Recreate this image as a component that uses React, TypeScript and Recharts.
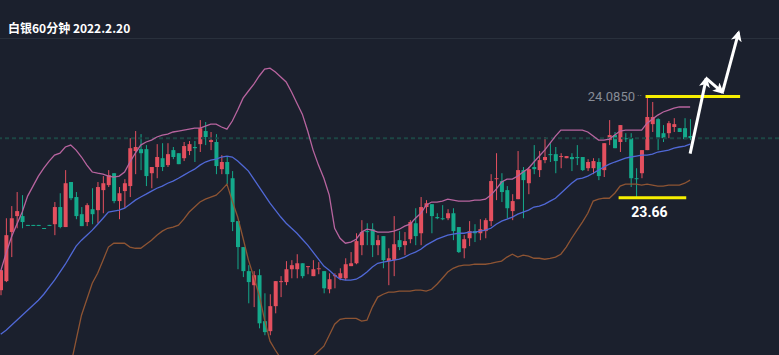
import { ComposedChart, Bar, Line, XAxis, YAxis, ReferenceLine } from "recharts";

// 60-minute silver candles (open / high / low / close)
const opens = [
  23.272, 23.31, 23.516, 23.583, 23.583, 23.546, 23.546, 23.546, 23.533, 23.546,
  23.549, 23.621, 23.537, 23.726, 23.663, 23.591, 23.558, 23.612, 23.608, 23.692,
  23.713, 23.763, 23.646, 23.688, 23.709, 23.856, 23.864, 23.864, 23.763, 23.789,
  23.826, 23.797, 23.86, 23.847, 23.826, 23.856, 23.873, 23.885, 23.94, 23.894,
  23.894, 23.78, 23.81, 23.742, 23.562, 23.453, 23.352, 23.293, 23.335, 23.142,
  23.1, 23.205, 23.306, 23.306, 23.36, 23.36, 23.385, 23.369, 23.331, 23.36,
  23.352, 23.276, 23.331, 23.322, 23.322, 23.373, 23.385, 23.461, 23.52, 23.528,
  23.461, 23.499, 23.394, 23.398, 23.482, 23.461, 23.486, 23.553, 23.511, 23.621,
  23.633, 23.579, 23.574, 23.574, 23.595, 23.537, 23.448, 23.49, 23.52, 23.511,
  23.52, 23.562, 23.738, 23.73, 23.692, 23.604, 23.654, 23.776, 23.721, 23.789,
  23.776, 23.818, 23.843, 23.843, 23.831, 23.826, 23.831, 23.831, 23.831, 23.784,
  23.784, 23.81, 23.776, 23.902, 23.923, 23.894, 23.91, 23.91, 23.742, 23.763,
  23.86, 23.969, 23.99, 23.931, 23.931, 23.957, 23.952, 23.952, 23.919,
];
const highs = [
  23.356, 23.574, 23.625, 23.684, 23.671, 23.546, 23.546, 23.546, 23.533, 23.546,
  23.642, 23.679, 23.776, 23.726, 23.684, 23.621, 23.637, 23.7, 23.726, 23.751,
  23.776, 23.763, 23.705, 23.738, 23.91, 23.94, 23.927, 23.881, 23.789, 23.885,
  23.889, 23.889, 23.873, 23.847, 23.894, 23.898, 23.898, 23.986, 23.978, 23.936,
  23.927, 23.839, 23.831, 23.772, 23.562, 23.453, 23.377, 23.352, 23.36, 23.259,
  23.255, 23.31, 23.331, 23.394, 23.398, 23.423, 23.385, 23.373, 23.398, 23.39,
  23.352, 23.343, 23.343, 23.364, 23.406, 23.432, 23.511, 23.566, 23.553, 23.553,
  23.503, 23.499, 23.448, 23.583, 23.52, 23.516, 23.566, 23.616, 23.663, 23.65,
  23.633, 23.595, 23.629, 23.612, 23.616, 23.537, 23.503, 23.562, 23.549, 23.57,
  23.574, 23.759, 23.847, 23.763, 23.709, 23.675, 23.856, 23.789, 23.789, 23.881,
  23.856, 23.915, 23.889, 23.873, 23.847, 23.835, 23.847, 23.881, 23.831, 23.822,
  23.826, 23.826, 23.889, 23.986, 23.936, 23.965, 23.931, 23.931, 23.784, 23.86,
  24.085, 24.062, 23.994, 23.965, 23.982, 23.994, 23.952, 23.994, 23.99,
];
const lows = [
  23.251, 23.306, 23.411, 23.532, 23.532, 23.544, 23.544, 23.544, 23.531, 23.544,
  23.503, 23.532, 23.537, 23.65, 23.57, 23.541, 23.541, 23.549, 23.553, 23.595,
  23.705, 23.637, 23.57, 23.616, 23.663, 23.759, 23.776, 23.709, 23.7, 23.742,
  23.772, 23.789, 23.822, 23.801, 23.814, 23.839, 23.81, 23.852, 23.881, 23.86,
  23.759, 23.759, 23.717, 23.52, 23.36, 23.327, 23.217, 23.201, 23.112, 23.083,
  23.083, 23.175, 23.243, 23.293, 23.322, 23.322, 23.322, 23.339, 23.331, 23.339,
  23.259, 23.259, 23.28, 23.314, 23.314, 23.373, 23.381, 23.419, 23.461, 23.411,
  23.419, 23.364, 23.293, 23.331, 23.44, 23.419, 23.469, 23.461, 23.461, 23.595,
  23.511, 23.57, 23.566, 23.566, 23.482, 23.428, 23.406, 23.457, 23.474, 23.482,
  23.49, 23.541, 23.65, 23.642, 23.574, 23.566, 23.654, 23.574, 23.675, 23.759,
  23.747, 23.805, 23.81, 23.763, 23.784, 23.826, 23.772, 23.797, 23.772, 23.772,
  23.759, 23.734, 23.747, 23.881, 23.868, 23.852, 23.894, 23.705, 23.66, 23.742,
  23.86, 23.936, 23.86, 23.894, 23.91, 23.936, 23.936, 23.906, 23.902,
];
const closes = [
  23.356, 23.503, 23.574, 23.604, 23.558, 23.544, 23.544, 23.544, 23.531, 23.544,
  23.621, 23.537, 23.721, 23.658, 23.583, 23.541, 23.629, 23.591, 23.705, 23.721,
  23.755, 23.646, 23.679, 23.721, 23.868, 23.873, 23.847, 23.751, 23.789, 23.831,
  23.789, 23.843, 23.831, 23.801, 23.877, 23.885, 23.868, 23.952, 23.915, 23.902,
  23.793, 23.81, 23.759, 23.558, 23.453, 23.352, 23.306, 23.335, 23.133, 23.096,
  23.205, 23.31, 23.31, 23.36, 23.377, 23.385, 23.331, 23.373, 23.36, 23.364,
  23.28, 23.318, 23.335, 23.343, 23.381, 23.385, 23.478, 23.516, 23.516, 23.461,
  23.482, 23.398, 23.406, 23.465, 23.453, 23.478, 23.558, 23.499, 23.621, 23.637,
  23.583, 23.574, 23.57, 23.595, 23.52, 23.432, 23.486, 23.52, 23.511, 23.528,
  23.566, 23.73, 23.742, 23.684, 23.616, 23.646, 23.776, 23.734, 23.78, 23.78,
  23.818, 23.831, 23.839, 23.814, 23.835, 23.835, 23.822, 23.826, 23.776, 23.81,
  23.814, 23.751, 23.889, 23.923, 23.868, 23.965, 23.906, 23.742, 23.738, 23.86,
  23.999, 23.999, 23.91, 23.91, 23.973, 23.969, 23.936, 23.906, 23.91,
];

// Bollinger bands (upper / middle / lower)
const upper = [
  23.352, 23.427, 23.495, 23.549, 23.6, 23.667, 23.709, 23.751, 23.784, 23.814,
  23.839, 23.847, 23.873, 23.881, 23.86, 23.831, 23.797, 23.768, 23.763, 23.759,
  23.751, 23.747, 23.751, 23.768, 23.81, 23.847, 23.881, 23.894, 23.902, 23.915,
  23.923, 23.927, 23.936, 23.94, 23.944, 23.948, 23.952, 23.952, 23.961, 23.969,
  23.969, 23.957, 23.948, 23.982, 24.028, 24.078, 24.108, 24.137, 24.171, 24.2,
  24.204, 24.188, 24.167, 24.146, 24.104, 24.057, 24.011, 23.94, 23.86, 23.797,
  23.742, 23.671, 23.532, 23.49, 23.469, 23.474, 23.486, 23.516, 23.528, 23.524,
  23.516, 23.516, 23.516, 23.52, 23.528, 23.541, 23.549, 23.574, 23.595, 23.629,
  23.642, 23.642, 23.646, 23.654, 23.65, 23.646, 23.646, 23.646, 23.65, 23.65,
  23.654, 23.671, 23.696, 23.726, 23.738, 23.738, 23.751, 23.768, 23.784, 23.81,
  23.835, 23.86, 23.889, 23.919, 23.944, 23.944, 23.944, 23.944, 23.944, 23.936,
  23.919, 23.902, 23.902, 23.906, 23.923, 23.94, 23.944, 23.944, 23.944, 23.944,
  23.973, 23.99, 24.007, 24.02, 24.028, 24.036, 24.041, 24.041, 24.041,
];
const middle = [
  23.087, 23.104, 23.125, 23.146, 23.167, 23.188, 23.209, 23.23, 23.255, 23.285,
  23.314, 23.348, 23.381, 23.419, 23.457, 23.482, 23.503, 23.524, 23.549, 23.574,
  23.6, 23.604, 23.608, 23.616, 23.633, 23.65, 23.663, 23.675, 23.688, 23.7,
  23.709, 23.721, 23.73, 23.742, 23.755, 23.768, 23.78, 23.797, 23.81, 23.818,
  23.822, 23.831, 23.835, 23.831, 23.814, 23.793, 23.772, 23.738, 23.705, 23.671,
  23.637, 23.608, 23.579, 23.553, 23.532, 23.511, 23.486, 23.461, 23.432, 23.402,
  23.373, 23.356, 23.335, 23.318, 23.314, 23.314, 23.318, 23.331, 23.348, 23.369,
  23.385, 23.39, 23.394, 23.398, 23.402, 23.411, 23.423, 23.432, 23.444, 23.461,
  23.474, 23.486, 23.495, 23.503, 23.507, 23.511, 23.511, 23.516, 23.516, 23.52,
  23.524, 23.532, 23.549, 23.562, 23.57, 23.579, 23.591, 23.6, 23.608, 23.621,
  23.625, 23.633, 23.646, 23.658, 23.679, 23.7, 23.721, 23.738, 23.742, 23.751,
  23.763, 23.776, 23.789, 23.801, 23.81, 23.818, 23.826, 23.831, 23.835, 23.839,
  23.839, 23.843, 23.852, 23.856, 23.86, 23.868, 23.873, 23.877, 23.885,
];
const lower = [
  null, null, null, null, null, null, null, null, null, null,
  null, 22.81, 22.873, 22.957, 23.062, 23.167, 23.234, 23.301, 23.343, 23.398,
  23.453, 23.469, 23.469, 23.469, 23.453, 23.448, 23.448, 23.465, 23.482, 23.503,
  23.52, 23.532, 23.537, 23.545, 23.57, 23.6, 23.621, 23.642, 23.654, 23.663,
  23.671, 23.692, 23.717, 23.646, 23.579, 23.49, 23.398, 23.327, 23.251, 23.146,
  23.058, 23.02, 22.986, 22.957, 22.936, 22.928, 22.936, 22.961, 22.995, 23.016,
  23.037, 23.083, 23.129, 23.15, 23.154, 23.154, 23.154, 23.142, 23.146, 23.201,
  23.243, 23.255, 23.264, 23.264, 23.268, 23.268, 23.268, 23.272, 23.272, 23.268,
  23.276, 23.297, 23.322, 23.348, 23.364, 23.373, 23.377, 23.377, 23.381, 23.381,
  23.381, 23.385, 23.39, 23.394, 23.411, 23.423, 23.411, 23.419, 23.415, 23.406,
  23.406, 23.402, 23.406, 23.411, 23.423, 23.453, 23.49, 23.524, 23.558, 23.595,
  23.646, 23.654, 23.658, 23.658, 23.679, 23.709, 23.717, 23.717, 23.717, 23.713,
  23.717, 23.713, 23.709, 23.709, 23.713, 23.713, 23.713, 23.721, 23.734,
];

// annotations
const RESIST = 24.085;
const SUPPORT = 23.66;
const resistSpan = [120, 137];
const supportSpan = [115, 127];
const arrowIdx = [128, 131, 134, 137];
const arrowPrice = [23.845, 24.161, 24.102, 24.354];

const SLOTS = 145;
const Y_DOMAIN = [23.0, 24.49];

const BG = "#1b202d";
const RED = "#e4505f";
const GREEN = "#14a98b";
const YELLOW = "#f7ef00";

const inSpan = (i: number, s: number[]) => i >= s[0] && i <= s[1];

const rows = Array.from({ length: SLOTS }, (_, i) => {
  const row: any = {
    i,
    open: opens[i] ?? null,
    high: highs[i] ?? null,
    low: lows[i] ?? null,
    close: closes[i] ?? null,
    up: upper[i] ?? null,
    mid: middle[i] ?? null,
    dn: lower[i] ?? null,
    res: inSpan(i, resistSpan) ? RESIST : null,
    sup: inSpan(i, supportSpan) ? SUPPORT : null,
  };
  for (let k = 0; k < 3; k++) {
    const a = arrowIdx.indexOf(i);
    row[`a${k}`] = a === k ? arrowPrice[k] : a === k + 1 ? arrowPrice[k + 1] : null;
  }
  return row;
});

const LAST = closes[closes.length - 1];

function Candle(props: any) {
  const { x, y, width, height, payload } = props;
  if (payload == null || payload.high == null) return null;
  const { open, close, high, low } = payload;
  const k = height / (high - low);
  const color = close >= open ? RED : GREEN;
  const yO = y + (high - open) * k;
  const yC = y + (high - close) * k;
  const top = Math.min(yO, yC);
  const h = Math.max(1, Math.abs(yO - yC));
  const cx = x + width / 2;
  return (
    <g>
      <rect x={cx - 0.5} y={y} width={1} height={Math.max(1, height)} fill={color} />
      <rect x={cx - 2} y={top} width={4} height={h} fill={color} />
    </g>
  );
}

const empty = (p: any) => <g key={`e${p.index}`} />;

function resistLabel(p: any) {
  if (p.index !== resistSpan[0]) return empty(p);
  return (
    <g key="resLabel">
      <text x={p.cx - 12} y={p.cy} dy="0.35em" textAnchor="end" fill="#878c96" fontSize={13} fontFamily="Roboto, sans-serif">
        {RESIST.toFixed(4)}
      </text>
      <text x={p.cx - 10} y={p.cy - 1} dy="0.35em" fill="#878c96" fontSize={9} fontFamily="Roboto, sans-serif">
        ··
      </text>
    </g>
  );
}

function supportLabel(p: any) {
  const mid = Math.round((supportSpan[0] + supportSpan[1]) / 2);
  if (p.index !== mid) return empty(p);
  return (
    <text key="supLabel" x={p.cx - 3} y={p.cy + 14} dy="0.35em" textAnchor="middle" fill="#ffffff" fontSize={14} fontWeight={700} fontFamily="Roboto, sans-serif">
      {SUPPORT.toFixed(2)}
    </text>
  );
}

export default function App() {
  return (
    <div style={{ position: "absolute", left: 0, top: 0, width: 779, height: 355, background: BG, overflow: "hidden" }}>
      <svg width={0} height={0} style={{ position: "absolute" }}>
        <defs>
          <marker id="arrowHead" viewBox="0 0 10 10" refX={8} refY={5} markerWidth={11} markerHeight={11} markerUnits="userSpaceOnUse" orient="auto">
            <path d="M0,0 L10,5 L0,10 L2.5,5 Z" fill="#ffffff" />
          </marker>
        </defs>
      </svg>
      <div style={{ position: "absolute", left: 0, top: 38, width: 779, height: 1, background: "#29303c" }} />
      <div style={{ position: "absolute", left: 0, top: 0 }}>
        <ComposedChart width={779} height={355} data={rows} margin={{ top: 0, right: 0, bottom: 0, left: -2 }}>
          <XAxis dataKey="i" type="category" hide />
          <YAxis domain={Y_DOMAIN} allowDataOverflow hide />
          <ReferenceLine y={LAST} stroke="#1d4644" strokeWidth={2} strokeDasharray="4 3" />
          <Line dataKey="dn" stroke="#8e5433" strokeWidth={1.3} dot={false} activeDot={false} isAnimationActive={false} />
          <Line dataKey="up" stroke="#b8649f" strokeWidth={1.3} dot={false} activeDot={false} isAnimationActive={false} />
          <Line dataKey="mid" stroke="#5068d6" strokeWidth={1.3} dot={false} activeDot={false} isAnimationActive={false} />
          <Bar
            dataKey={(d: any) => (d.high != null ? [d.low, d.high] : null)}
            barSize={4}
            shape={Candle}
            activeBar={false}
            isAnimationActive={false}
          />
          <Line dataKey="res" stroke={YELLOW} strokeWidth={3} strokeLinecap="square" dot={resistLabel} activeDot={false} isAnimationActive={false} />
          <Line dataKey="sup" stroke={YELLOW} strokeWidth={3} strokeLinecap="square" dot={supportLabel} activeDot={false} isAnimationActive={false} />
          {[0, 1, 2].map((k) => (
            <Line
              key={k}
              dataKey={`a${k}`}
              stroke="#ffffff"
              strokeWidth={3}
              connectNulls
              dot={false}
              activeDot={false}
              markerEnd="url(#arrowHead)"
              isAnimationActive={false}
            />
          ))}
        </ComposedChart>
      </div>
      <div
        style={{
          position: "absolute",
          left: 8,
          top: 19,
          color: "#ffffff",
          fontFamily: "'Noto Sans CJK SC', 'Noto Sans', sans-serif",
          fontWeight: 700,
          fontSize: 12,
          lineHeight: "18px",
          whiteSpace: "nowrap",
        }}
      >
        白银60分钟 2022.2.20
      </div>
    </div>
  );
}
